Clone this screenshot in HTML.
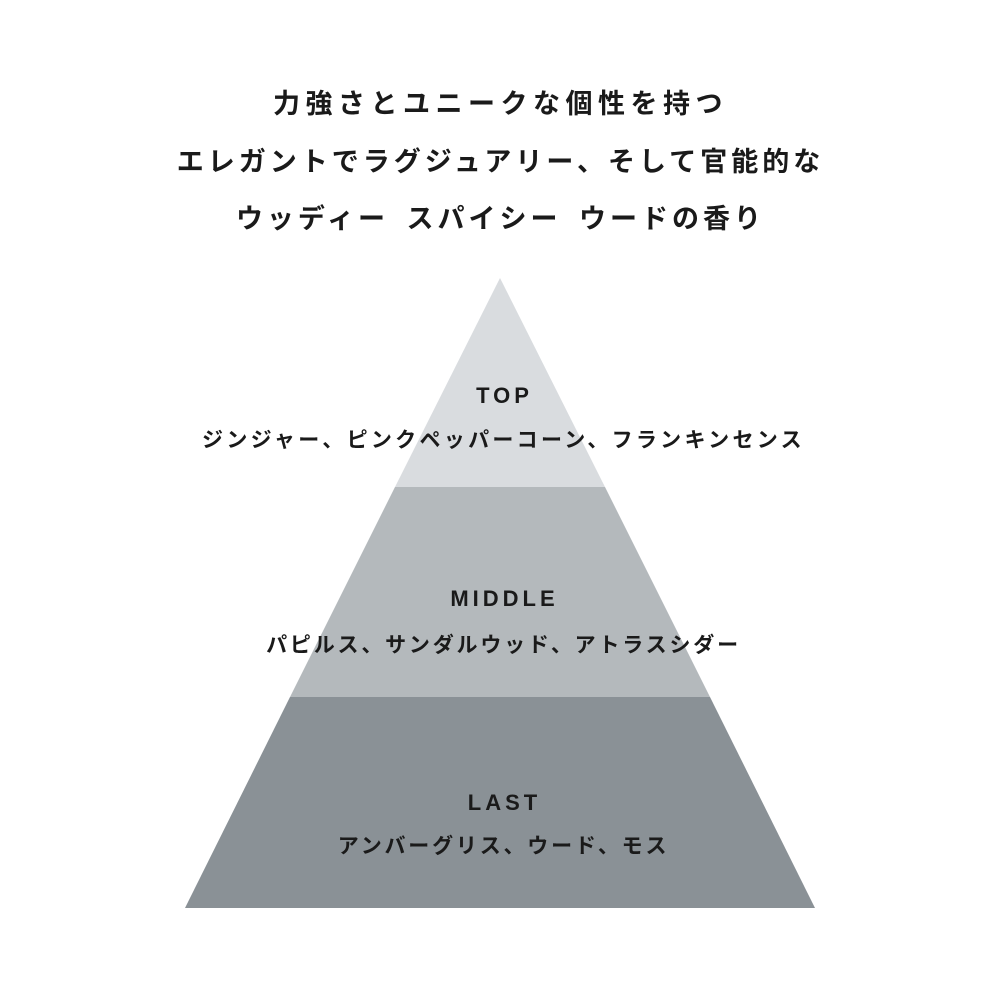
<!DOCTYPE html>
<html><head><meta charset="utf-8"><style>
html,body{margin:0;padding:0;background:#fff;}
body{width:1001px;height:1001px;position:relative;overflow:hidden;font-family:"Liberation Sans","Noto Sans CJK JP",sans-serif;color:#1a1a1a;}
.t{position:absolute;left:0;width:1001px;text-align:center;font-weight:bold;white-space:nowrap;line-height:1;}
.h{font-size:27px;letter-spacing:4px;}
.l{font-size:22px;letter-spacing:4px;}
.n{font-size:21px;letter-spacing:2.8px;}
svg{position:absolute;left:0;top:0;}
</style></head><body>
<svg width="1001" height="1001">
<polygon points="500,278 605,487 395,487" fill="#d9dcdf"/>
<polygon points="395,487 605,487 710,697 290,697" fill="#b4b9bc"/>
<polygon points="290,697 710,697 815,908 185,908" fill="#8a9196"/>
</svg>
<div class="t h" style="top:91px;letter-spacing:5.5px">力強さとユニークな個性を持つ</div>
<div class="t h" style="top:149px">エレガントでラグジュアリー、そして官能的な</div>
<div class="t h" style="top:206px">ウッディー&ensp;スパイシー&ensp;ウードの香り</div>
<div class="t l" style="top:385px;padding-left:4px">TOP</div>
<div class="t n" style="top:430px;padding-left:3px;letter-spacing:3.3px">ジンジャー、ピンクペッパーコーン、フランキンセンス</div>
<div class="t l" style="top:588px;padding-left:4px">MIDDLE</div>
<div class="t n" style="top:635px;padding-left:3px">パピルス、サンダルウッド、アトラスシダー</div>
<div class="t l" style="top:792px;padding-left:4px">LAST</div>
<div class="t n" style="top:836px;padding-left:3px">アンバーグリス、ウード、モス</div>
</body></html>
